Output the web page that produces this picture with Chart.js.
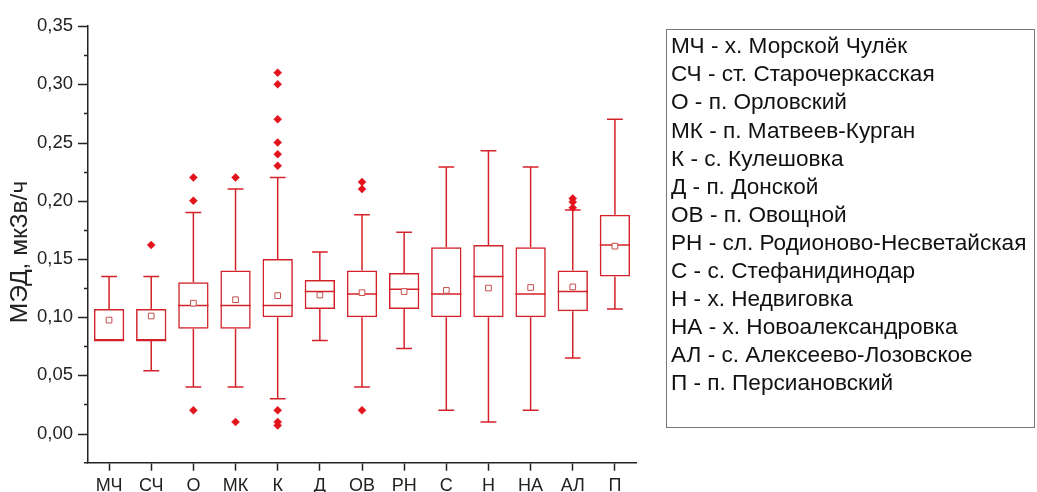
<!DOCTYPE html>
<html>
<head>
<meta charset="utf-8">
<script src="https://cdn.jsdelivr.net/npm/chart.js@4/dist/chart.umd.min.js"></script>
<style>
  html, body { margin: 0; padding: 0; background: #fff; }
  #wrap { width: 1037px; height: 492px; }
</style>
</head>
<body>
<div id="wrap"><canvas id="box"></canvas></div>
<script>
// data
const categories = ["МЧ", "СЧ", "О", "МК", "К", "Д", "ОВ", "РН", "С", "Н", "НА", "АЛ", "П"];
const whiskerLow  = [0.080, 0.054, 0.040, 0.040, 0.030, 0.080, 0.040, 0.073, 0.020, 0.010, 0.020, 0.065, 0.107];
const q1          = [0.080, 0.080, 0.090, 0.090, 0.100, 0.107, 0.100, 0.107, 0.100, 0.100, 0.100, 0.105, 0.135];
const medians     = [0.080, 0.080, 0.110, 0.110, 0.110, 0.122, 0.120, 0.124, 0.120, 0.135, 0.120, 0.122, 0.162];
const q3          = [0.107, 0.107, 0.130, 0.140, 0.150, 0.132, 0.140, 0.138, 0.160, 0.162, 0.160, 0.140, 0.188];
const whiskerHigh = [0.135, 0.135, 0.190, 0.210, 0.220, 0.156, 0.188, 0.173, 0.229, 0.243, 0.229, 0.192, 0.270];
const means       = [0.0975, 0.101, 0.112, 0.115, 0.1185, 0.119, 0.121, 0.122, 0.123, 0.125, 0.1255, 0.126, 0.161];
const outlierCats = ["СЧ", "О", "О", "О", "МК", "МК", "К", "К", "К", "К", "К", "К", "К", "К", "К", "ОВ", "ОВ", "ОВ", "АЛ", "АЛ", "АЛ"];
const outlierVals = [0.162, 0.220, 0.200, 0.020, 0.220, 0.010, 0.310, 0.300, 0.270, 0.250, 0.240, 0.230, 0.020, 0.010, 0.007, 0.216, 0.210, 0.020, 0.202, 0.199, 0.194];
const yTicks = [0, 0.05, 0.10, 0.15, 0.20, 0.25, 0.30, 0.35];
const yMinorTicks = [0.025, 0.075, 0.125, 0.175, 0.225, 0.275, 0.325];
const yTitle = "МЭД, мкЗв/ч";
const legendLines = [
  "МЧ - х. Морской Чулёк",
  "СЧ - ст. Старочеркасская",
  "О - п. Орловский",
  "МК - п. Матвеев-Курган",
  "К - с. Кулешовка",
  "Д - п. Донской",
  "ОВ - п. Овощной",
  "РН - сл. Родионово-Несветайская",
  "С - с. Стефанидинодар",
  "Н - х. Недвиговка",
  "НА - х. Новоалександровка",
  "АЛ - с. Алексеево-Лозовское",
  "П - п. Персиановский",
];

const RED = "#d3222a";
const AXIS = "#222";
const FONT = "'Liberation Sans', Arial, sans-serif";

// whiskers, caps, medians
const boxExtras = {
  id: "boxExtras",
  afterDatasetDraw(chart, args) {
    if (args.index !== 0) return;
    const { ctx, scales: { y } } = chart;
    const bars = args.meta.data;
    ctx.save();
    ctx.strokeStyle = RED;
    ctx.lineWidth = 1.5;
    bars.forEach((bar, i) => {
      const x = bar.x, w = bar.width, cap = w * 0.26;
      const yLo = y.getPixelForValue(whiskerLow[i]);
      const yHi = y.getPixelForValue(whiskerHigh[i]);
      const yQ1 = y.getPixelForValue(q1[i]);
      const yQ3 = y.getPixelForValue(q3[i]);
      const yMed = y.getPixelForValue(medians[i]);
      ctx.beginPath();
      ctx.moveTo(x, yQ3); ctx.lineTo(x, yHi);
      ctx.moveTo(x - cap, yHi); ctx.lineTo(x + cap, yHi);
      ctx.moveTo(x, yQ1); ctx.lineTo(x, yLo);
      ctx.moveTo(x - cap, yLo); ctx.lineTo(x + cap, yLo);
      ctx.moveTo(x - w / 2, yMed); ctx.lineTo(x + w / 2, yMed);
      ctx.stroke();
    });
    ctx.restore();
  },
};

// y ticks, axis title and the text box on the right
const decor = {
  id: "decor",
  afterDraw(chart) {
    const { ctx, scales: { y }, chartArea } = chart;
    ctx.save();
    ctx.strokeStyle = AXIS;
    ctx.lineWidth = 1.5;
    ctx.beginPath();
    yTicks.forEach(v => {
      const py = Math.round(y.getPixelForValue(v)) + 0.5;
      ctx.moveTo(chartArea.left - 10, py); ctx.lineTo(chartArea.left, py);
    });
    yMinorTicks.forEach(v => {
      const py = Math.round(y.getPixelForValue(v)) + 0.5;
      ctx.moveTo(chartArea.left - 4, py); ctx.lineTo(chartArea.left, py);
    });
    // small overhang of the x axis to the left
    ctx.moveTo(chartArea.left - 4, chartArea.bottom); ctx.lineTo(chartArea.left, chartArea.bottom);
    ctx.stroke();

    // y title
    ctx.save();
    ctx.translate(20, 252);
    ctx.rotate(-Math.PI / 2);
    ctx.font = "24.5px " + FONT;
    ctx.fillStyle = AXIS;
    ctx.textAlign = "center";
    ctx.textBaseline = "middle";
    ctx.fillText(yTitle, 0, 0);
    ctx.restore();

    // text box
    ctx.strokeStyle = "#777";
    ctx.lineWidth = 1;
    ctx.strokeRect(666.5, 29.5, 368, 398);
    ctx.font = "22.6px " + FONT;
    ctx.fillStyle = "#111";
    ctx.textAlign = "left";
    ctx.textBaseline = "middle";
    legendLines.forEach((t, i) => ctx.fillText(t, 671, 47 + i * 28.1));
    ctx.restore();
  },
};

const config = {
  type: "bar",
  data: {
    labels: categories,
    datasets: [
      {
        label: "box",
        data: q1.map((v, i) => [v, q3[i]]),
        backgroundColor: "rgba(0,0,0,0)",
        borderColor: RED,
        borderWidth: 1.5,
        borderSkipped: false,
        barPercentage: 0.72,
        categoryPercentage: 1,
        order: 3,
      },
      {
        type: "line",
        label: "outliers",
        data: outlierCats.map((c, i) => ({ x: c, y: outlierVals[i] })),
        showLine: false,
        pointStyle: "rectRot",
        pointRadius: 4,
        pointBackgroundColor: "#e3131b",
        pointBorderColor: "#e3131b",
        pointBorderWidth: 0.5,
        order: 2,
      },
      {
        type: "line",
        label: "mean",
        data: means,
        showLine: false,
        pointStyle: "rect",
        pointRadius: 4,
        pointBackgroundColor: "#fff",
        pointBorderColor: "#c4504e",
        pointBorderWidth: 1,
        order: 1,
      },
    ],
  },
  options: {
    responsive: true,
    maintainAspectRatio: false,
    animation: false,
    layout: { padding: { left: 0, right: 401, top: 21, bottom: 0 } },
    plugins: { legend: { display: false }, tooltip: { enabled: false } },
    scales: {
      x: {
        offset: true,
        grid: { offset: false, drawOnChartArea: false, drawTicks: true, tickLength: 8, tickColor: AXIS, tickWidth: 1.5 },
        border: { color: AXIS, width: 1.5 },
        ticks: { color: AXIS, font: { size: 18, family: FONT }, padding: 5, maxRotation: 0, autoSkip: false },
        afterFit(scale) { scale.height = 29.3; },
      },
      y: {
        min: -0.025,
        max: 0.35,
        grid: { drawOnChartArea: false, drawTicks: false },
        border: { color: AXIS, width: 1.5 },
        afterBuildTicks(scale) { scale.ticks = yTicks.map(v => ({ value: v })); },
        ticks: {
          color: AXIS,
          padding: 15,
          font: { size: 18.5, family: FONT },
          callback: v => v.toFixed(2).replace(".", ","),
        },
        afterFit(scale) { scale.width = 88; },
      },
    },
  },
  plugins: [boxExtras, decor],
};

const boxChart = new Chart(document.getElementById("box"), config);
</script>
</body>
</html>
